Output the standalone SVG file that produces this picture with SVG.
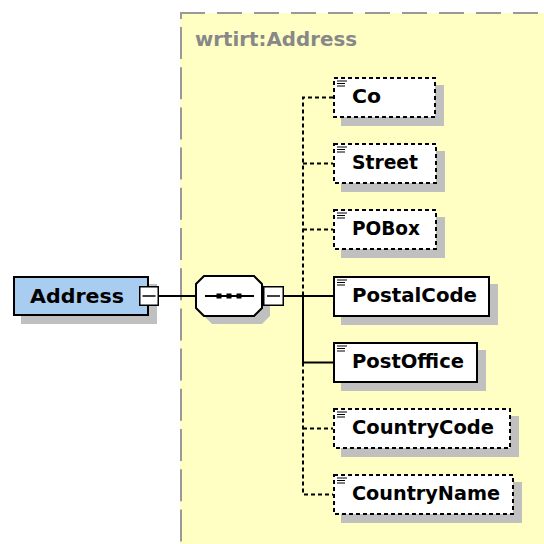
<svg xmlns="http://www.w3.org/2000/svg" width="544" height="544" viewBox="0 0 544 544">
<defs>
<style>
.lbl{font-family:"DejaVu Sans","Liberation Sans",sans-serif;font-weight:bold;font-size:20px;fill:#000}
.hdr{font-family:"DejaVu Sans","Liberation Sans",sans-serif;font-weight:bold;font-size:19px;fill:#888}
.shadow{fill:#c0c0c0}
.box{fill:#fff;stroke:#000;stroke-width:2}
.opt{stroke-dasharray:4 3}
.conn{fill:none;stroke:#000;stroke-width:2}
.dash{stroke-dasharray:4 3}
.icon{stroke:#000;stroke-width:1.2}
.tog{fill:#fff;stroke:#000;stroke-width:1.5}
.minus{stroke:#000;stroke-width:1.5}
.border{stroke:#999;stroke-width:2;fill:none}
</style>
</defs>
<rect x="0" y="0" width="544" height="544" fill="#fff"/>
<g id="type-region">
<rect x="180" y="13" width="364" height="531" fill="#ffffc4"/>
<line class="border" x1="180" y1="13" x2="544" y2="13" stroke-dasharray="25 12"/>
<line class="border" x1="181" y1="13" x2="181" y2="19"/>
<line class="border" x1="181" y1="27" x2="181" y2="544" stroke-dasharray="32 8.2"/>
<text class="hdr" x="195" y="46" textLength="162" lengthAdjust="spacingAndGlyphs">wrtirt:Address</text>
</g>
<g id="connectors">
<line class="conn" x1="158" y1="296" x2="195" y2="296"/>
<line class="conn" x1="284" y1="296" x2="333" y2="296"/>
<path class="conn dash" d="M333,97.5 H303 V296"/>
<path class="conn" d="M303,296 V362.5 H333"/>
<path class="conn dash" d="M303,362.5 V494.5 H333"/>
<path class="conn dash" d="M303,163.5 H333"/>
<path class="conn dash" d="M303,229.5 H333"/>
<path class="conn dash" d="M303,428.5 H333"/>
</g>
<g id="node-Address">
<rect class="shadow" x="21" y="284" width="136" height="40"/>
<rect x="14" y="277" width="134" height="38" fill="#a8cdf0" stroke="#000" stroke-width="2"/>
<text class="lbl" x="30" y="303" font-size="21" textLength="94" lengthAdjust="spacingAndGlyphs">Address</text>
<rect class="tog" x="139.75" y="286.75" width="18.5" height="18.5"/>
<line class="minus" x1="142.5" y1="296" x2="155.5" y2="296"/>
</g>
<g id="node-sequence">
<polygon class="shadow" points="212,284 262,284 270,292 270,316 262,324 212,324 204,316 204,292"/>
<polygon points="204,276 254,276 262,284 262,308 254,316 204,316 196,308 196,284" fill="#fff" stroke="#000" stroke-width="2"/>
<line x1="205" y1="296" x2="254" y2="296" stroke="#000" stroke-width="2"/>
<rect x="216.5" y="293.5" width="5" height="5" fill="#000"/>
<rect x="226.5" y="293.5" width="5" height="5" fill="#000"/>
<rect x="236.5" y="293.5" width="5" height="5" fill="#000"/>
<rect class="tog" x="263.75" y="286.75" width="19.5" height="18.5"/>
<line class="minus" x1="267" y1="296" x2="280" y2="296"/>
</g>
<g id="node-Co">
<rect class="shadow" x="341" y="85" width="103" height="41"/>
<rect class="box opt" x="334" y="78" width="101" height="39"/>
<path class="icon" d="M337,81H347M337,83.5H345M337,86H345"/>
<text class="lbl" x="352" y="103" textLength="29" lengthAdjust="spacingAndGlyphs">Co</text>
</g>
<g id="node-Street">
<rect class="shadow" x="341" y="151" width="104" height="41"/>
<rect class="box opt" x="334" y="144" width="102" height="39"/>
<path class="icon" d="M337,147H347M337,149.5H345M337,152H345"/>
<text class="lbl" x="352" y="169" textLength="66" lengthAdjust="spacingAndGlyphs">Street</text>
</g>
<g id="node-POBox">
<rect class="shadow" x="341" y="217" width="104" height="41"/>
<rect class="box opt" x="334" y="210" width="102" height="39"/>
<path class="icon" d="M337,213H347M337,215.5H345M337,218H345"/>
<text class="lbl" x="352" y="235" textLength="68" lengthAdjust="spacingAndGlyphs">POBox</text>
</g>
<g id="node-PostalCode">
<rect class="shadow" x="341" y="284" width="157" height="41"/>
<rect class="box" x="334" y="277" width="155" height="39"/>
<path class="icon" d="M337,280H347M337,282.5H345M337,285H345"/>
<text class="lbl" x="352" y="302" textLength="125" lengthAdjust="spacingAndGlyphs">PostalCode</text>
</g>
<g id="node-PostOffice">
<rect class="shadow" x="341" y="350" width="145" height="41"/>
<rect class="box" x="334" y="343" width="143" height="39"/>
<path class="icon" d="M337,346H347M337,348.5H345M337,351H345"/>
<text class="lbl" x="352" y="368" textLength="112" lengthAdjust="spacingAndGlyphs">PostOffice</text>
</g>
<g id="node-CountryCode">
<rect class="shadow" x="341" y="416" width="178" height="41"/>
<rect class="box opt" x="334" y="409" width="176" height="39"/>
<path class="icon" d="M337,412H347M337,414.5H345M337,417H345"/>
<text class="lbl" x="352" y="434" textLength="142" lengthAdjust="spacingAndGlyphs">CountryCode</text>
</g>
<g id="node-CountryName">
<rect class="shadow" x="341" y="482" width="181" height="41"/>
<rect class="box opt" x="334" y="475" width="179" height="39"/>
<path class="icon" d="M337,478H347M337,480.5H345M337,483H345"/>
<text class="lbl" x="352" y="500" textLength="148" lengthAdjust="spacingAndGlyphs">CountryName</text>
</g>
</svg>
